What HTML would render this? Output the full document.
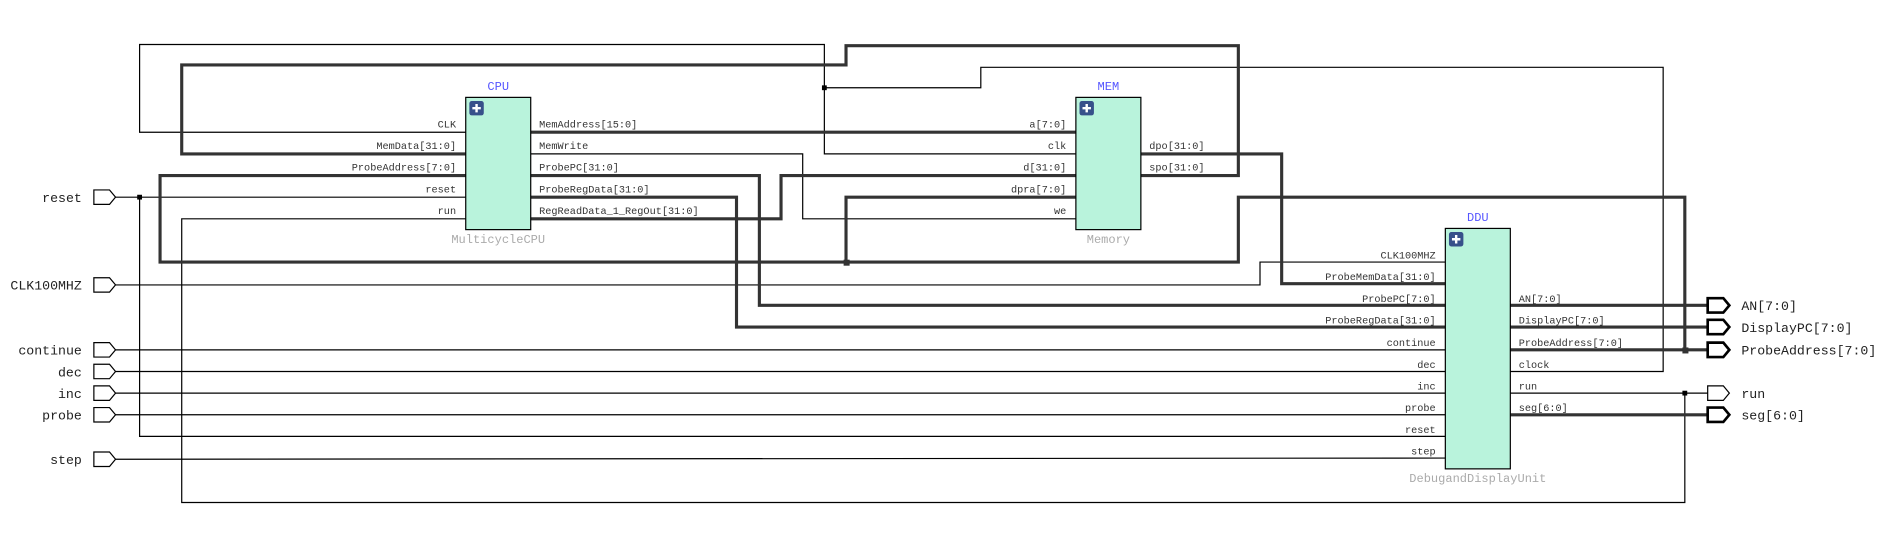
<!DOCTYPE html>
<html><head><meta charset="utf-8"><style>
html,body{margin:0;padding:0;background:#fff;}
svg{display:block;}
text{font-family:"Liberation Mono",monospace;}
.pl{font-size:8.5px;fill:#333;}
.pr{font-size:8.5px;fill:#333;text-anchor:end;}
.th{stroke:#333;stroke-width:2.6;fill:none;}
.tn{stroke:#000;stroke-width:1;fill:none;}
.box{fill:#b9f3dc;stroke:#000;stroke-width:1;}
.ttl{font-size:10px;fill:#5555ff;text-anchor:middle;}
.sub{font-size:10px;fill:#aaa;text-anchor:middle;}
.port{font-size:11px;fill:#222;}
</style></head><body>
<svg width="1887" height="541" viewBox="0 0 1568 450" preserveAspectRatio="none" xmlns="http://www.w3.org/2000/svg">
<rect width="1568" height="450" fill="#fff"/>
<!-- thin wires -->
<polyline class="tn" points="96,164 387,164"/>
<polyline class="tn" points="116,164 116,363 1201,363"/>
<polyline class="tn" points="387,110 116,110 116,37 685,37 685,128 894,128"/>
<polyline class="tn" points="685,73 815,73 815,56 1382,56 1382,309 1255,309"/>
<polyline class="tn" points="441,128 667,128 667,182 894,182"/>
<polyline class="tn" points="387,182 151,182 151,418 1400,418 1400,327"/>
<polyline class="tn" points="1255,327 1419,327"/>
<polyline class="tn" points="96,237 1047,237 1047,218 1201,218"/>
<polyline class="tn" points="96,291 1201,291"/>
<polyline class="tn" points="96,309 1201,309"/>
<polyline class="tn" points="96,327 1201,327"/>
<polyline class="tn" points="96,345 1201,345"/>
<polyline class="tn" points="96,382 1201,381"/>
<!-- thick wires -->
<polyline class="th" points="387,128 151,128 151,54 703,54 703,38 1029,38 1029,146 948,146"/>
<polyline class="th" points="387,146 133,146 133,218 1029,218 1029,164 1400,164 1400,291"/>
<polyline class="th" points="703,218 703,164 894,164"/>
<polyline class="th" points="1255,291 1419,291"/>
<polyline class="th" points="441,110 894,110"/>
<polyline class="th" points="441,146 631,146 631,254 1201,254"/>
<polyline class="th" points="441,164 612,164 612,272 1201,272"/>
<polyline class="th" points="441,182 649,182 649,146 894,146"/>
<polyline class="th" points="948,128 1065,128 1065,236 1201,236"/>
<polyline class="th" points="1255,254 1419,254"/>
<polyline class="th" points="1255,272 1419,272"/>
<polyline class="th" points="1255,345 1419,345"/>
<!-- junctions -->
<rect x="114" y="162" width="4" height="4" fill="#000"/>
<rect x="683" y="71" width="4" height="4" fill="#000"/>
<rect x="701" y="216" width="5" height="5" fill="#333"/>
<rect x="1398" y="289" width="5" height="5" fill="#333"/>
<rect x="1398" y="325" width="4" height="4" fill="#000"/>
<!-- CPU -->
<text class="ttl" x="414" y="75">CPU</text>
<rect class="box" x="387" y="81" width="54" height="110"/>
<rect x="390" y="84" width="12" height="12" rx="2" fill="#37508a"/>
<path d="M396 86.5v7M392.5 90h7" stroke="#fff" stroke-width="2"/>
<text class="sub" x="414" y="202">MulticycleCPU</text>
<text class="pr" x="379" y="106">CLK</text>
<text class="pr" x="379" y="124">MemData[31:0]</text>
<text class="pr" x="379" y="142">ProbeAddress[7:0]</text>
<text class="pr" x="379" y="160">reset</text>
<text class="pr" x="379" y="178">run</text>
<text class="pl" x="448" y="106">MemAddress[15:0]</text>
<text class="pl" x="448" y="124">MemWrite</text>
<text class="pl" x="448" y="142">ProbePC[31:0]</text>
<text class="pl" x="448" y="160">ProbeRegData[31:0]</text>
<text class="pl" x="448" y="178">RegReadData_1_RegOut[31:0]</text>
<!-- MEM -->
<text class="ttl" x="921" y="75">MEM</text>
<rect class="box" x="894" y="81" width="54" height="110"/>
<rect x="897" y="84" width="12" height="12" rx="2" fill="#37508a"/>
<path d="M903 86.5v7M899.5 90h7" stroke="#fff" stroke-width="2"/>
<text class="sub" x="921" y="202">Memory</text>
<text class="pr" x="886" y="106">a[7:0]</text>
<text class="pr" x="886" y="124">clk</text>
<text class="pr" x="886" y="142">d[31:0]</text>
<text class="pr" x="886" y="160">dpra[7:0]</text>
<text class="pr" x="886" y="178">we</text>
<text class="pl" x="955" y="124">dpo[31:0]</text>
<text class="pl" x="955" y="142">spo[31:0]</text>
<!-- DDU -->
<text class="ttl" x="1228" y="184">DDU</text>
<rect class="box" x="1201" y="190" width="54" height="200"/>
<rect x="1204" y="193" width="12" height="12" rx="2" fill="#37508a"/>
<path d="M1210 195.5v7M1206.5 199h7" stroke="#fff" stroke-width="2"/>
<text class="sub" x="1228" y="401">DebugandDisplayUnit</text>
<text class="pr" x="1193" y="215">CLK100MHZ</text>
<text class="pr" x="1193" y="233">ProbeMemData[31:0]</text>
<text class="pr" x="1193" y="251">ProbePC[7:0]</text>
<text class="pr" x="1193" y="269">ProbeRegData[31:0]</text>
<text class="pr" x="1193" y="288">continue</text>
<text class="pr" x="1193" y="306">dec</text>
<text class="pr" x="1193" y="324">inc</text>
<text class="pr" x="1193" y="342">probe</text>
<text class="pr" x="1193" y="360">reset</text>
<text class="pr" x="1193" y="378">step</text>
<text class="pl" x="1262" y="251">AN[7:0]</text>
<text class="pl" x="1262" y="269">DisplayPC[7:0]</text>
<text class="pl" x="1262" y="288">ProbeAddress[7:0]</text>
<text class="pl" x="1262" y="306">clock</text>
<text class="pl" x="1262" y="324">run</text>
<text class="pl" x="1262" y="342">seg[6:0]</text>
<!-- input ports -->
<g fill="#fff" stroke="#000" stroke-width="1">
<polygon points="78,158 91,158 96,164 91,170 78,170"/>
<polygon points="78,231 91,231 96,237 91,243 78,243"/>
<polygon points="78,285 91,285 96,291 91,297 78,297"/>
<polygon points="78,303 91,303 96,309 91,315 78,315"/>
<polygon points="78,321 91,321 96,327 91,333 78,333"/>
<polygon points="78,339 91,339 96,345 91,351 78,351"/>
<polygon points="78,376 91,376 96,382 91,388 78,388"/>
<polygon points="1419,321 1432,321 1437,327 1432,333 1419,333"/>
</g>
<g fill="#fff" stroke="#000" stroke-width="2.2">
<polygon points="1419,248 1432,248 1437,254 1432,260 1419,260"/>
<polygon points="1419,266 1432,266 1437,272 1432,278 1419,278"/>
<polygon points="1419,285 1432,285 1437,291 1432,297 1419,297"/>
<polygon points="1419,339 1432,339 1437,345 1432,351 1419,351"/>
</g>
<g class="port" text-anchor="end">
<text x="68" y="168">reset</text>
<text x="68" y="241">CLK100MHZ</text>
<text x="68" y="295">continue</text>
<text x="68" y="313">dec</text>
<text x="68" y="331">inc</text>
<text x="68" y="349">probe</text>
<text x="68" y="386">step</text>
</g>
<g class="port">
<text x="1447" y="258">AN[7:0]</text>
<text x="1447" y="276">DisplayPC[7:0]</text>
<text x="1447" y="295">ProbeAddress[7:0]</text>
<text x="1447" y="331">run</text>
<text x="1447" y="349">seg[6:0]</text>
</g>
</svg>
</body></html>
